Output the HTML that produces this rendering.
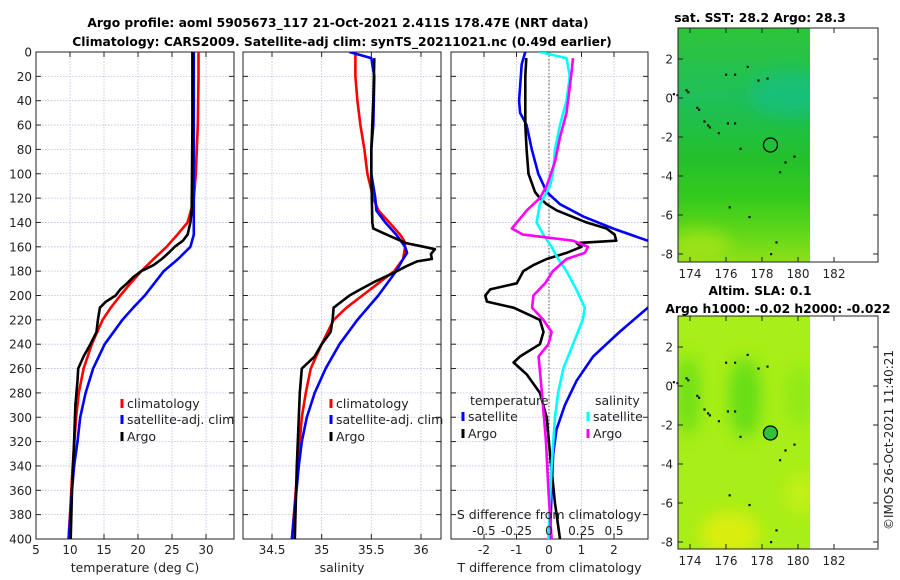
<!DOCTYPE html>
<html><head><meta charset="utf-8">
<style>
body{margin:0;background:#fff;}
svg{display:block;font-family:"DejaVu Sans","Liberation Sans",sans-serif;}
</style></head>
<body>
<svg id="fig" width="900" height="580" viewBox="0 0 900 580" xmlns="http://www.w3.org/2000/svg">
<text x="338" y="27" font-size="12.3" font-weight="bold" text-anchor="middle">Argo profile: aoml 5905673_117 21-Oct-2021 2.411S 178.47E (NRT data)</text>
<text x="342" y="46" font-size="12.3" font-weight="bold" text-anchor="middle">Climatology: CARS2009. Satellite-adj clim: synTS_20211021.nc (0.49d earlier)</text>
<g id="plots"></g>
<text x="760" y="22" font-size="12.3" font-weight="bold" text-anchor="middle">sat. SST: 28.2 Argo: 28.3</text>
<text x="760" y="295" font-size="12.3" font-weight="bold" text-anchor="middle">Altim. SLA: 0.1</text>
<text x="778" y="313" font-size="12.3" font-weight="bold" text-anchor="middle">Argo h1000: -0.02 h2000: -0.022</text>
<text transform="translate(893,440) rotate(-90)" font-size="12" text-anchor="middle" fill="#222">©IMOS 26-Oct-2021 11:40:21</text>
</svg>
<script>
// ---- data ----
const depthTicks=[0,20,40,60,80,100,120,140,160,180,200,220,240,260,280,300,320,340,360,380,400];
const tempTicks=[5,10,15,20,25,30];
const salTicks=[34.5,35,35.5,36];
const tdiffTicks=[-2,-1,0,1,2];
const sdiffTicks=[-0.5,-0.25,0,0.25,0.5];
const sdiffTickLabels=["-0.5","-0.25","0","0.25","0.5"];

const tClimDepth=[0,20,60,100,120,130,140,150,160,170,180,190,200,210,220,240,260,280,300,340,400];
const tClimVal=[28.9,28.9,28.8,28.5,28.2,27.8,27.3,25.8,24.2,22.3,20.5,18.9,17.4,16.0,14.8,13.2,12.0,11.3,10.9,10.4,9.8];
const tSatDepth=[0,50,100,150,160,170,180,190,200,210,220,240,260,280,300,320,340,360,400];
const tSatVal=[28.2,28.2,28.2,28.2,27.7,25.9,23.8,22.4,21.0,19.3,17.7,15.1,13.4,12.3,11.5,11.1,10.6,10.3,9.8];
const tArgoDepth=[0,60,130,140,150,155,160,165,170,175,180,185,190,195,200,205,210,220,230,240,250,260,270,290,320,360,400];
const tArgoVal=[28.0,28.0,27.9,27.7,27.3,26.6,25.4,24.5,23.5,22.3,20.5,19.3,18.4,17.4,16.7,15.3,14.4,14.1,13.9,13.0,12.0,11.2,11.1,10.8,10.6,10.3,10.1];

const sClimDepth=[0,20,40,60,80,100,120,130,140,150,155,160,170,180,190,200,210,220,240,260,280,300,340,400];
const sClimVal=[35.34,35.34,35.36,35.39,35.43,35.46,35.52,35.57,35.68,35.79,35.83,35.84,35.82,35.73,35.57,35.41,35.25,35.12,35.0,34.89,34.84,34.80,34.76,34.70];
const sSatDepth=[0,5,20,60,80,100,120,130,140,150,160,165,170,180,200,220,240,260,280,300,320,340,400];
const sSatVal=[35.28,35.5,35.53,35.52,35.5,35.5,35.54,35.55,35.64,35.75,35.84,35.86,35.82,35.75,35.57,35.36,35.18,35.04,34.93,34.85,34.80,34.77,34.70];
const sArgoDepth=[5,40,80,100,140,145,148,152,157,160,162,166,170,172,176,182,188,195,200,205,210,220,230,240,250,260,280,300,340,400];
const sArgoVal=[35.53,35.52,35.5,35.5,35.51,35.52,35.6,35.71,35.85,36.03,36.14,36.10,36.11,35.96,35.85,35.71,35.55,35.39,35.28,35.20,35.12,35.11,35.09,35.0,34.93,34.80,34.78,34.77,34.75,34.73];

const dTSatDepth=[0,10,40,50,60,80,100,115,125,135,145,155,170,190,210,230,250,270,290,310,330,360,400];
const dTSatVal=[-0.73,-0.84,-0.92,-0.89,-0.69,-0.53,-0.33,-0.07,0.34,1.05,1.97,3.04,4.5,4.5,3.04,2.17,1.36,0.85,0.49,0.23,0.13,0.08,0.03];
const dTArgoDepth=[5,20,60,80,100,115,120,125,130,140,145,150,155,157,160,165,170,175,180,185,190,195,200,205,210,215,220,230,240,250,255,265,280,300,330,370,400];
const dTArgoVal=[-0.70,-0.73,-0.73,-0.69,-0.63,-0.43,-0.28,-0.07,0.23,1.15,1.77,2.02,2.07,0.85,1.0,0.54,-0.07,-0.48,-0.79,-0.89,-0.99,-1.81,-1.96,-1.91,-1.09,-0.68,-0.28,-0.17,-0.28,-0.89,-1.09,-0.68,-0.28,-0.07,0.03,0.18,0.34];
const dSSatDepth=[0,5,20,40,60,80,100,110,115,125,140,150,160,170,180,195,210,220,240,260,280,300,340,400];
const dSSatVal=[-0.07,0.135,0.16,0.135,0.085,0.046,0.03,0.008,-0.018,-0.07,-0.095,-0.043,0.02,0.07,0.135,0.21,0.275,0.26,0.185,0.11,0.07,0.046,0.02,-0.005];
const dSArgoDepth=[5,20,50,70,90,110,120,130,145,150,155,160,165,170,180,190,200,210,220,230,240,250,280,320,360,400];
const dSArgoVal=[0.185,0.17,0.135,0.085,0.046,-0.018,-0.07,-0.17,-0.285,-0.2,0.185,0.3,0.275,0.135,0.03,-0.03,-0.12,-0.13,-0.043,0.02,-0.005,-0.08,-0.055,-0.023,-0.005,0.02];

const mapLonTicks=[174,176,178,180,182];
const mapLatTicks=[2,0,-2,-4,-6,-8];
const argoLon=178.47, argoLat=-2.41;
const islandLon=[173.1,173.3,173.8,173.9,174.4,174.5,174.8,175.0,175.1,175.6,176.1,176.5,176.8,176.2,177.3,178.5,178.8,176.0,176.5,177.2,177.8,178.3,179.3,179.8,179.0];
const islandLat=[0.2,0.15,0.4,0.3,-0.5,-0.6,-1.2,-1.4,-1.5,-1.8,-1.3,-1.3,-2.6,-5.6,-6.1,-8.0,-7.4,1.2,1.2,1.6,0.9,1.0,-3.3,-3.0,-3.8];

// ---- helpers ----
const NS="http://www.w3.org/2000/svg";
const root=document.getElementById('plots');
function mk(tag,attrs,parent){const e=document.createElementNS(NS,tag);for(const k in attrs)e.setAttribute(k,attrs[k]);(parent||root).appendChild(e);return e;}
const Y0=52,Y1=539;
function yD(d){return Y0+(d/400)*(Y1-Y0);}
function lin(d0,d1,r0,r1){return v=>r0+(v-d0)/(d1-d0)*(r1-r0);}

function axesPanel(name,x0,x1,xs,xticks,xlabels,showYLabels,xtitle){
  const g=mk('g',{});
  
  
  depthTicks.forEach(d=>{mk('line',{x1:x0,x2:x1,y1:yD(d),y2:yD(d),stroke:'#b8c0dc','stroke-width':0.8,'stroke-dasharray':'1.5,1.5'},g);});
  xticks.forEach(v=>{mk('line',{x1:xs(v),x2:xs(v),y1:Y0,y2:Y1,stroke:'#b8c0dc','stroke-width':0.8,'stroke-dasharray':'1.5,1.5'},g);});
  depthTicks.forEach(d=>{mk('line',{x1:x0,x2:x0+5,y1:yD(d),y2:yD(d),stroke:'#222'},g);mk('line',{x1:x1,x2:x1-5,y1:yD(d),y2:yD(d),stroke:'#222'},g);
    if(showYLabels){const t=mk('text',{x:x0-4,y:yD(d)+4.5,'font-size':12,'text-anchor':'end',fill:'#222'},g);t.textContent=d;}});
  xticks.forEach((v,i)=>{mk('line',{x1:xs(v),x2:xs(v),y1:Y1,y2:Y1-5,stroke:'#222'},g);mk('line',{x1:xs(v),x2:xs(v),y1:Y0,y2:Y0+5,stroke:'#222'},g);
    const t=mk('text',{x:xs(v),y:554,'font-size':12,'text-anchor':'middle',fill:'#222'},g);t.textContent=xlabels[i];});
  mk('rect',{x:x0,y:Y0,width:x1-x0,height:Y1-Y0,fill:'none',stroke:'#222','stroke-width':1},g);
  const tt=mk('text',{x:(x0+x1)/2,y:572,'font-size':12.5,'text-anchor':'middle',fill:'#222'},g);tt.textContent=xtitle;
  
  return g;
}
function curve(name,depths,vals,xs,color,clipId){
  const pts=depths.map((d,i)=>xs(vals[i]).toFixed(1)+','+yD(d).toFixed(1)).join(' ');
  const p=mk('polyline',{points:pts,fill:'none',stroke:color,'stroke-width':2.6,'stroke-linejoin':'round','clip-path':'url(#'+clipId+')'});
  
  
}
function clip(id,x0,x1){const defs=mk('defs',{});const c=mk('clipPath',{id:id},defs);mk('rect',{x:x0,y:Y0,width:x1-x0,height:Y1-Y0},c);}
function legendItem(x,y,color,label,name){
  const g=mk('g',{});
  
  
  mk('line',{x1:x,x2:x,y1:y-9,y2:y,stroke:color,'stroke-width':3},g);
  const t=mk('text',{x:x+5,y:y,'font-size':12.5,fill:'#222'},g);t.textContent=label;
}

const xT=lin(5,30,36,206);
clip('cT',36,234);
axesPanel('temperature-panel',36,234,xT,tempTicks,tempTicks.map(String),true,'temperature (deg C)');
curve('temp-climatology-line',tClimDepth,tClimVal,xT,'#ff0000','cT');
curve('temp-satellite-line',tSatDepth,tSatVal,xT,'#0000ff','cT');
curve('temp-argo-line',tArgoDepth,tArgoVal,xT,'#000000','cT');
legendItem(122,408,'#ff0000','climatology','legend-climatology');
legendItem(122,424,'#0000ff','satellite-adj. clim','legend-satellite');
legendItem(122,441,'#000000','Argo','legend-argo');

const xS=lin(34.5,36,272,421);
clip('cS',243,441);
axesPanel('salinity-panel',243,441,xS,salTicks,["34.5","35","35.5","36"],false,'salinity');
curve('sal-climatology-line',sClimDepth,sClimVal,xS,'#ff0000','cS');
curve('sal-satellite-line',sSatDepth,sSatVal,xS,'#0000ff','cS');
curve('sal-argo-line',sArgoDepth,sArgoVal,xS,'#000000','cS');
legendItem(331,408,'#ff0000','climatology','legend-sal-climatology');
legendItem(331,424,'#0000ff','satellite-adj. clim','legend-sal-satellite');
legendItem(331,441,'#000000','Argo','legend-sal-argo');

const xD=lin(-2,2,484,614);
const xDS=v=>xD(v*4);
clip('cD',451,648);
axesPanel('difference-panel',451,648,xD,tdiffTicks,tdiffTicks.map(String),false,'T difference from climatology');
mk('line',{x1:xD(0),x2:xD(0),y1:Y0,y2:Y1,stroke:'#555','stroke-width':1,'stroke-dasharray':'1.5,2'});
curve('dtemp-satellite-line',dTSatDepth,dTSatVal,xD,'#0000ff','cD');
curve('dtemp-argo-line',dTArgoDepth,dTArgoVal,xD,'#000000','cD');
curve('dsal-satellite-line',dSSatDepth,dSSatVal,xDS,'#00ffff','cD');
curve('dsal-argo-line',dSArgoDepth,dSArgoVal,xDS,'#ff00ff','cD');
{const t=mk('text',{x:470,y:405,'font-size':12.5,fill:'#222'});t.textContent='temperature';}
{const t=mk('text',{x:595,y:405,'font-size':12.5,fill:'#222'});t.textContent='salinity';}
legendItem(463,421,'#0000ff','satellite','legend-dt-satellite');
legendItem(463,438,'#000000','Argo','legend-dt-argo');
legendItem(588,421,'#00ffff','satellite','legend-ds-satellite');
legendItem(588,438,'#ff00ff','Argo','legend-ds-argo');
{const t=mk('text',{x:549,y:519,'font-size':12.5,'text-anchor':'middle',fill:'#222'});t.textContent='S difference from climatology';}
sdiffTicks.forEach((v,i)=>{const t=mk('text',{x:xDS(v),y:535,'font-size':12,'text-anchor':'middle',fill:'#222'});t.textContent=sdiffTickLabels[i];
  
  });

function map(name,top,bottom,kind){
  const lx=lin(174,182,690,834);
  const ly=lin(2,-8,top+31,top+226);
  const g=mk('g',{});
  
  
  const defs=mk('defs',{},g);
  const cid='clip'+kind;
  const cp=mk('clipPath',{id:cid},defs);mk('rect',{x:678,y:top,width:132,height:bottom-top},cp);
  const fid='blur'+kind;
  const f=mk('filter',{id:fid,x:'-50%',y:'-50%',width:'200%',height:'200%'},defs);mk('feGaussianBlur',{stdDeviation:8},f);
  const gc=mk('g',{'clip-path':'url(#'+cid+')'},g);
  if(kind==='sst'){
    const lg=mk('linearGradient',{id:'gsst',x1:0,y1:0,x2:0,y2:1},defs);
    [[0,'#2ec43a'],[0.3,'#1fbf5a'],[0.55,'#22c02c'],[0.72,'#33c91c'],[0.88,'#62d81a'],[1,'#8fe018']].forEach(s=>mk('stop',{offset:s[0],'stop-color':s[1]},lg));
    mk('rect',{x:678,y:top,width:132,height:bottom-top,fill:'url(#gsst)'},gc);
    mk('ellipse',{cx:790,cy:ly(0.2),rx:40,ry:22,fill:'#18bf80',opacity:0.8,filter:'url(#'+fid+')'},gc);
    mk('ellipse',{cx:700,cy:ly(-7.6),rx:30,ry:16,fill:'#a6e416',opacity:0.8,filter:'url(#'+fid+')'},gc);
  } else {
    mk('rect',{x:678,y:top,width:132,height:bottom-top,fill:'#a8ee18'},gc);
    mk('ellipse',{cx:745,cy:ly(-0.6),rx:16,ry:40,fill:'#5fdc18',opacity:0.9,filter:'url(#'+fid+')'},gc);
    mk('ellipse',{cx:688,cy:ly(-0.5),rx:12,ry:40,fill:'#5fdc18',opacity:0.8,filter:'url(#'+fid+')'},gc);
    mk('ellipse',{cx:800,cy:ly(-0.5),rx:14,ry:30,fill:'#8ae818',opacity:0.8,filter:'url(#'+fid+')'},gc);
    mk('ellipse',{cx:730,cy:ly(-7.6),rx:30,ry:22,fill:'#e0ee10',opacity:0.9,filter:'url(#'+fid+')'},gc);
    mk('ellipse',{cx:800,cy:ly(-5.5),rx:14,ry:20,fill:'#ccf014',opacity:0.8,filter:'url(#'+fid+')'},gc);
  }
  islandLon.forEach((lo,i)=>{mk('rect',{x:lx(lo)-1,y:ly(islandLat[i])-1,width:2.2,height:2.2,fill:'#111'},g);});
  mk('circle',{cx:lx(argoLon),cy:ly(argoLat),r:7,fill:kind==='sla'?'#2ec43a':'none',stroke:'#000','stroke-width':1.3},g);
  mk('rect',{x:678,y:top,width:200,height:bottom-top,fill:'none',stroke:'#222'},g);
  mapLatTicks.forEach(v=>{mk('line',{x1:678,x2:683,y1:ly(v),y2:ly(v),stroke:'#222'},g);mk('line',{x1:878,x2:873,y1:ly(v),y2:ly(v),stroke:'#222'},g);
    const t=mk('text',{x:673,y:ly(v)+4.5,'font-size':12,'text-anchor':'end',fill:'#222'},g);t.textContent=v;
    
    });
  mapLonTicks.forEach(v=>{mk('line',{x1:lx(v),x2:lx(v),y1:bottom,y2:bottom-5,stroke:'#222'},g);mk('line',{x1:lx(v),x2:lx(v),y1:top,y2:top+5,stroke:'#222'},g);
    const t=mk('text',{x:lx(v),y:bottom+16,'font-size':12,'text-anchor':'middle',fill:'#222'},g);t.textContent=v;
    
    });
}
map('sst-map',28,262,'sst');
map('sla-map',316,549,'sla');
</script>
</body></html>
